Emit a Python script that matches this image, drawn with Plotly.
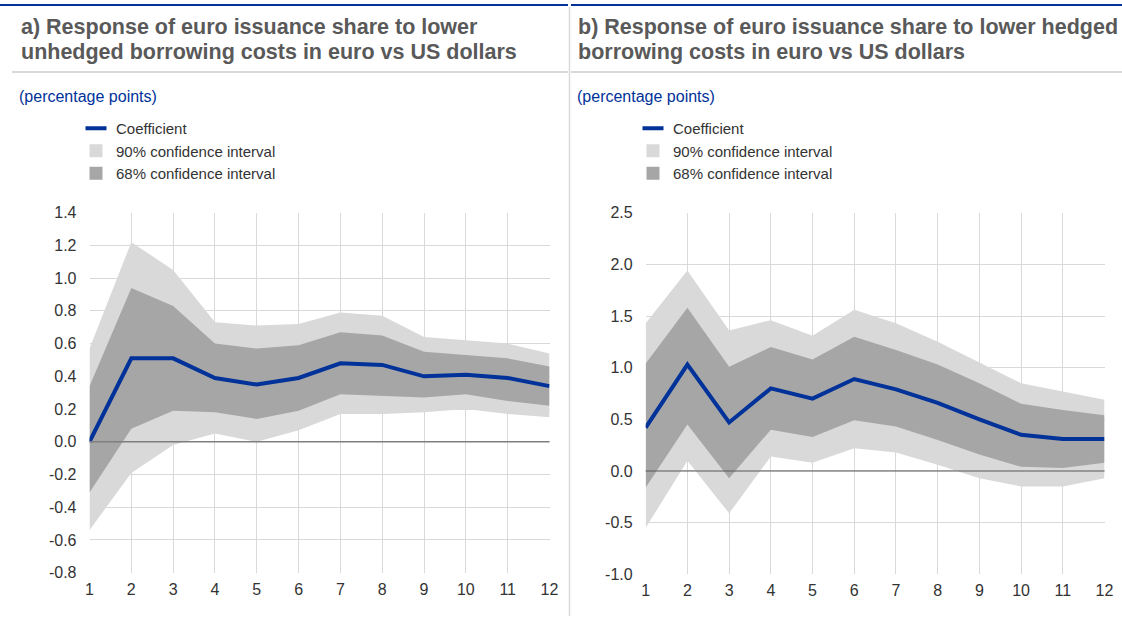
import plotly.graph_objects as go

horizons = list(range(1, 13))

# panel a) unhedged borrowing costs
coef_a = [0.00, 0.51, 0.51, 0.39, 0.35, 0.39, 0.48, 0.47, 0.40, 0.41, 0.39, 0.34]
ci90_lo_a = [-0.54, -0.19, -0.02, 0.05, 0.00, 0.07, 0.17, 0.17, 0.18, 0.20, 0.17, 0.15]
ci90_hi_a = [0.57, 1.22, 1.05, 0.73, 0.71, 0.72, 0.79, 0.77, 0.64, 0.62, 0.60, 0.54]
ci68_lo_a = [-0.31, 0.08, 0.19, 0.18, 0.14, 0.19, 0.29, 0.28, 0.27, 0.29, 0.25, 0.22]
ci68_hi_a = [0.34, 0.94, 0.83, 0.60, 0.57, 0.59, 0.67, 0.65, 0.55, 0.53, 0.51, 0.46]

# panel b) hedged borrowing costs
coef_b = [0.42, 1.03, 0.47, 0.80, 0.70, 0.89, 0.79, 0.66, 0.50, 0.35, 0.31, 0.31]
ci90_lo_b = [-0.55, 0.10, -0.41, 0.14, 0.08, 0.22, 0.18, 0.06, -0.07, -0.15, -0.15, -0.07]
ci90_hi_b = [1.43, 1.94, 1.36, 1.46, 1.31, 1.56, 1.43, 1.25, 1.05, 0.85, 0.77, 0.69]
ci68_lo_b = [-0.16, 0.45, -0.07, 0.40, 0.33, 0.49, 0.43, 0.30, 0.16, 0.04, 0.03, 0.08]
ci68_hi_b = [1.04, 1.58, 1.01, 1.20, 1.08, 1.30, 1.17, 1.03, 0.85, 0.65, 0.59, 0.54]

yticks_a = [1.4, 1.2, 1.0, 0.8, 0.6, 0.4, 0.2, 0.0, -0.2, -0.4, -0.6, -0.8]
yticks_b = [2.5, 2.0, 1.5, 1.0, 0.5, 0.0, -0.5, -1.0]

title_a = ["a) Response of euro issuance share to lower",
           "unhedged borrowing costs in euro vs US dollars"]
title_b = ["b) Response of euro issuance share to lower hedged",
           "borrowing costs in euro vs US dollars"]
unit_label = "(percentage points)"
legend_names = ["Coefficient", "90% confidence interval", "68% confidence interval"]

BLUE = "#003299"
LIGHT = "#d9d9d9"
DARK = "#a6a6a6"
TXT = "#333333"
FONT = "Arial, Liberation Sans, sans-serif"
W, H = 1122, 621


def px_x(p):
    return p / W


def px_y(p):
    return 1 - p / H


fig = go.Figure()


def add_panel(xa, ya, legend, coef, lo90, hi90, lo68, hi68):
    fig.add_trace(go.Scatter(x=horizons, y=lo90, xaxis=xa, yaxis=ya, mode="lines",
                             line=dict(width=0, color=LIGHT), showlegend=False, hoverinfo="skip"))
    fig.add_trace(go.Scatter(x=horizons, y=hi90, xaxis=xa, yaxis=ya, mode="lines",
                             line=dict(width=0, color=LIGHT), fill="tonexty", fillcolor=LIGHT,
                             showlegend=False))
    fig.add_trace(go.Scatter(x=horizons, y=lo68, xaxis=xa, yaxis=ya, mode="lines",
                             line=dict(width=0, color=DARK), showlegend=False, hoverinfo="skip"))
    fig.add_trace(go.Scatter(x=horizons, y=hi68, xaxis=xa, yaxis=ya, mode="lines",
                             line=dict(width=0, color=DARK), fill="tonexty", fillcolor=DARK,
                             showlegend=False))
    fig.add_trace(go.Scatter(x=horizons, y=coef, xaxis=xa, yaxis=ya, mode="lines",
                             line=dict(width=4, color=BLUE), name="Coefficient", showlegend=False))
    # legend-only entries with compact symbols
    fig.add_trace(go.Scatter(x=[None], y=[None], xaxis=xa, yaxis=ya, mode="markers",
                             marker=dict(symbol="line-ew", size=15, line=dict(width=4, color=BLUE)),
                             name=legend_names[0], legend=legend))
    fig.add_trace(go.Scatter(x=[None], y=[None], xaxis=xa, yaxis=ya, mode="markers",
                             marker=dict(symbol="square", size=13, color=LIGHT),
                             name=legend_names[1], legend=legend))
    fig.add_trace(go.Scatter(x=[None], y=[None], xaxis=xa, yaxis=ya, mode="markers",
                             marker=dict(symbol="square", size=13, color=DARK),
                             name=legend_names[2], legend=legend))


add_panel("x", "y", "legend", coef_a, ci90_lo_a, ci90_hi_a, ci68_lo_a, ci68_hi_a)
add_panel("x2", "y2", "legend2", coef_b, ci90_lo_b, ci90_hi_b, ci68_lo_b, ci68_hi_b)

axis_common = dict(showgrid=True, gridcolor=LIGHT, gridwidth=1, zeroline=False, automargin=False,
                   showline=False, ticks="", tickfont=dict(family=FONT, size=16, color=TXT))


def fmt(v):
    return "%.1f" % v


legend_common = dict(xanchor="left", yanchor="top", traceorder="normal",
                     font=dict(family=FONT, size=15, color=TXT), bgcolor="rgba(0,0,0,0)",
                     tracegroupgap=0, itemwidth=30)

fig.update_layout(
    width=W, height=H,
    margin=dict(l=0, r=0, t=0, b=0),
    paper_bgcolor="white", plot_bgcolor="white",
    font=dict(family=FONT, color=TXT),
    xaxis=dict(domain=[px_x(89.5), px_x(549.5)], range=[1, 12], tickvals=horizons,
               anchor="y", ticklabelstandoff=5, **axis_common),
    yaxis=dict(domain=[px_y(572.7), px_y(212.7)], range=[-0.8, 1.4], tickvals=yticks_a,
               ticktext=[fmt(v) for v in yticks_a], anchor="x", ticklabelstandoff=12, **axis_common),
    xaxis2=dict(domain=[px_x(645.7), px_x(1104.5)], range=[1, 12], tickvals=horizons,
                anchor="y2", ticklabelstandoff=5, **axis_common),
    yaxis2=dict(domain=[px_y(574.3), px_y(212.7)], range=[-1.0, 2.5], tickvals=yticks_b,
                ticktext=[fmt(v) for v in yticks_b], anchor="x2", ticklabelstandoff=12, **axis_common),
    legend=dict(x=px_x(76), y=px_y(112), **legend_common),
    legend2=dict(x=px_x(633), y=px_y(112), **legend_common),
    showlegend=True,
)

# zero lines drawn above the bands
fig.add_shape(type="line", xref="x domain", yref="y", x0=0, x1=1, y0=0, y1=0,
              line=dict(color="#7f7f7f", width=1.5), layer="above")
fig.add_shape(type="line", xref="x2 domain", yref="y2", x0=0, x1=1, y0=0, y1=0,
              line=dict(color="#595959", width=1.2), layer="above")

# frame: top rule, separators
fig.add_shape(type="line", xref="paper", yref="paper", x0=0, x1=px_x(568), y0=px_y(5), y1=px_y(5),
              line=dict(color=BLUE, width=2))
fig.add_shape(type="line", xref="paper", yref="paper", x0=px_x(571), x1=1, y0=px_y(5), y1=px_y(5),
              line=dict(color=BLUE, width=2))
fig.add_shape(type="line", xref="paper", yref="paper", x0=px_x(12), x1=px_x(568), y0=px_y(72), y1=px_y(72),
              line=dict(color=LIGHT, width=2))
fig.add_shape(type="line", xref="paper", yref="paper", x0=px_x(571), x1=1, y0=px_y(72), y1=px_y(72),
              line=dict(color=LIGHT, width=2))
fig.add_shape(type="line", xref="paper", yref="paper", x0=px_x(569.5), x1=px_x(569.5), y0=px_y(7), y1=px_y(616),
              line=dict(color=LIGHT, width=1.5))

for tx, lines in [(19, title_a), (576, title_b)]:
    for i, line in enumerate(lines):
        fig.add_annotation(text="<b>%s</b>" % line, xref="paper", yref="paper", x=px_x(tx),
                           y=px_y(27 + 25 * i), xanchor="left", yanchor="middle", align="left",
                           showarrow=False, font=dict(family=FONT, size=21.5, color="#595959"))
for tx in [17, 575]:
    fig.add_annotation(text=unit_label, xref="paper", yref="paper", x=px_x(tx), y=px_y(96),
                       xanchor="left", yanchor="middle", align="left", showarrow=False,
                       font=dict(family=FONT, size=16, color=BLUE))

pin_page = "document.body.style.margin='0';document.body.style.overflow='hidden';"
fig.write_html("out.html", config=dict(displayModeBar=False), post_script=pin_page)
